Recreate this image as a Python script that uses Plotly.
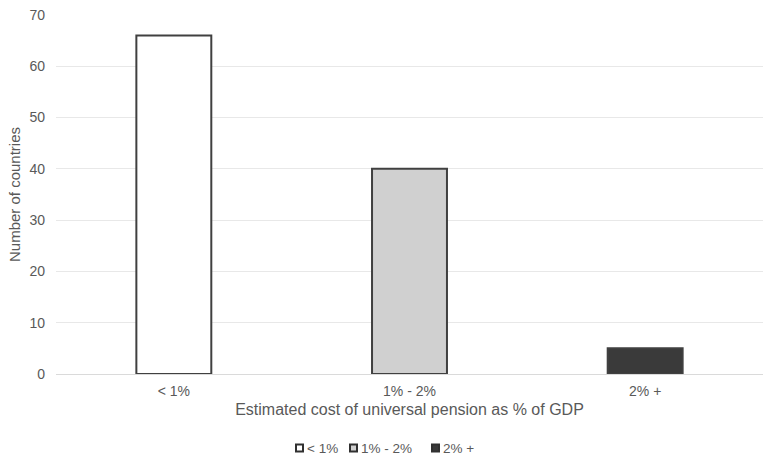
import plotly.graph_objects as go

categories = ["< 1%", "1% - 2%", "2% +"]
countries = [66, 40, 5]
fills = ["#ffffff", "#d0d0d0", "#3a3a3a"]
outline = "#404040"
text_color = "#595959"

W, H = 763, 457
L, R, T, B = 56, 0, 15, 83
PW, PH = W - L - R, H - T - B


def px_to_paper_x(px):
    return (px - L) / PW


def px_to_paper_y(py):
    return (H - B - py) / PH


fig = go.Figure()
for cat, val, fc in zip(categories, countries, fills):
    fig.add_trace(go.Bar(
        x=[cat], y=[val], name=cat, width=0.318, showlegend=False,
        marker=dict(color=fc, line=dict(color=outline, width=2)),
    ))

# compact legend below the axis title: small outlined squares followed by labels
legend_square_x = [296, 350, 432]
legend_y = 448
sq = 7
for cat, fc, sx in zip(categories, fills, legend_square_x):
    fig.add_shape(
        type="rect", xref="paper", yref="paper",
        x0=px_to_paper_x(sx), x1=px_to_paper_x(sx + sq),
        y0=px_to_paper_y(legend_y + sq / 2), y1=px_to_paper_y(legend_y - sq / 2),
        fillcolor=fc, line=dict(color="#303030", width=2),
    )
    fig.add_annotation(
        x=px_to_paper_x(sx + sq + 2), y=px_to_paper_y(legend_y),
        xref="paper", yref="paper", xanchor="left", yanchor="middle",
        text=cat, showarrow=False, font=dict(size=13.5, color=text_color),
    )

fig.update_layout(
    width=W, height=H,
    margin=dict(l=L, r=R, t=T, b=B, autoexpand=False),
    paper_bgcolor="white", plot_bgcolor="white",
    barmode="overlay",
    showlegend=False,
    font=dict(family="Liberation Sans, Arial, sans-serif", size=14, color=text_color),
    xaxis=dict(
        title=dict(text="Estimated cost of universal pension as % of GDP",
                   font=dict(size=16, color=text_color), standoff=6),
        showline=True, linecolor="#dadada", linewidth=1,
        ticks="", tickfont=dict(size=14, color=text_color), ticklabelstandoff=4,
    ),
    yaxis=dict(
        title=dict(text="Number of countries", font=dict(size=15, color=text_color), standoff=5),
        range=[0, 70], dtick=10, showgrid=True, gridcolor="#e8e8e8", gridwidth=1,
        zeroline=False, ticks="", tickfont=dict(size=14, color=text_color),
        ticklabelstandoff=10,
    ),
)

fig.write_html("out.html")
